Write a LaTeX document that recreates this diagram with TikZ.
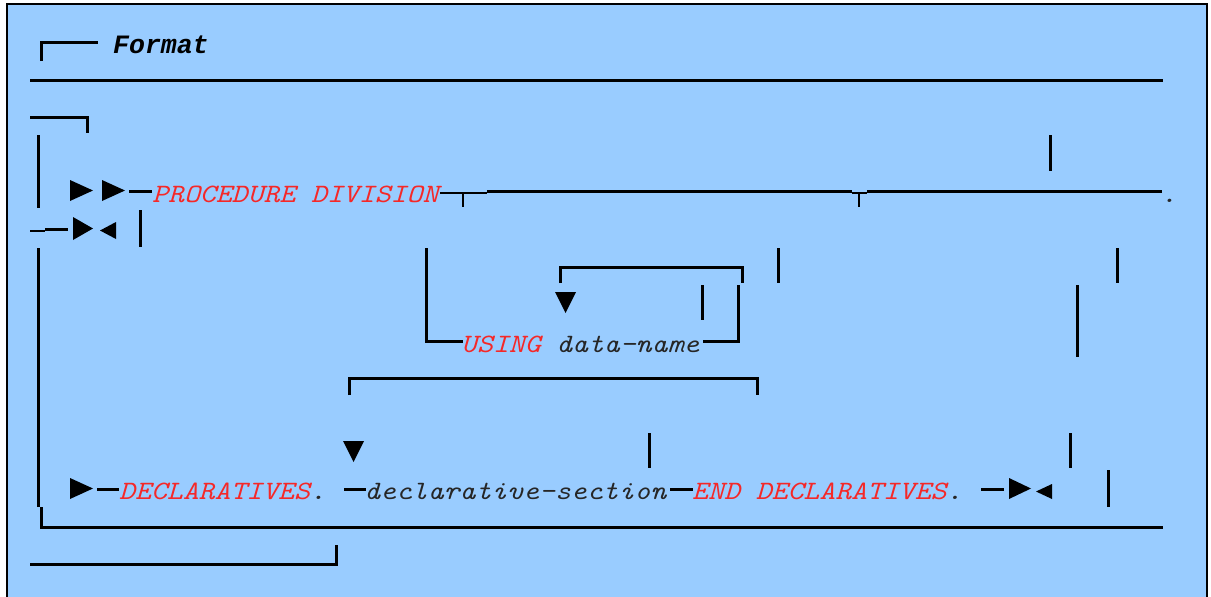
\documentclass[tikz,border=0pt]{standalone}
\usepackage{fontspec}
\setmonofont{Liberation Mono}
\newfontfamily\lmtype[FakeStretch=1.143]{Latin Modern Mono}
\usepackage{xcolor}
\usepackage{tikz}
\definecolor{bgBlue}{RGB}{153,204,255}
\definecolor{kwRed}{RGB}{245,40,40}
\newcommand\synfont{\fontsize{26.5}{30}\selectfont\lmtype\itshape}

\begin{document}
\begin{tikzpicture}[
    x=1pt, y=-1pt,
    ln/.style   ={line width=3pt},
    thin/.style ={line width=2pt},
    kw/.style   ={font=\synfont, text=kwRed, anchor=base west, inner sep=0pt},
    word/.style ={font=\synfont, text=black!85, anchor=base west, inner sep=0pt},
    tri/.style  ={fill=black}
]
\useasboundingbox (0,0) rectangle (1211,597);
\fill[bgBlue] (7,4) rectangle (1207,600);
\draw[line width=1.6pt] (7,600) -- (7,4) -- (1207,4) -- (1207,600);

\node[word, font=\fontsize{26.5}{30}\selectfont\ttfamily\bfseries\itshape, text=black] (fmt) at (113,53) {Format};
\node[kw] (proc) at (152,202) {PROCEDURE DIVISION};
\node[word] (dot) at (1161,202) {.};
\node[kw] (using) at (461,352) {USING};
\node[word] (dname) at (556,352) {data-name};
\node[kw] (decl) at (119,499) {DECLARATIVES\textcolor{black!85}{.}};
\node[word] (dsec) at (364,499) {declarative-section};
\node[kw] (enddecl) at (692,499) {END DECLARATIVES\textcolor{black!85}{.}};

\draw[ln] (41,61) -- (41,42) -- (98,42);
\draw[ln] (30,80) -- (1163,80);
\draw[ln] (30,117) -- (87,117) -- (87,133);
\draw[ln] (38,135) -- (38,208);
\draw[ln] (38,248) -- (38,507);
\draw[ln] (41,507) -- (41,527) -- (1163,527);
\draw[ln] (30,564) -- (336,564) -- (336,545);

\fill[tri] (70,180) -- (70,201) -- (93,190.5) -- cycle;
\fill[tri] (102,180) -- (102,201) -- (125,190.5) -- cycle;
\draw[ln] (129,191) -- (152,191);
\draw[thin] (440,193) -- (487,193);
\draw[ln] (487,191) -- (852,191);
\draw[thin] (852,193) -- (867,193);
\draw[ln] (867,191) -- (1162,191);
\draw[thin] (463,193) -- (463,207);
\draw[thin] (859,193) -- (859,207);
\draw[ln] (1050,135) -- (1050,171);

\draw[thin] (30,231) -- (45,231);
\draw[ln] (45,229) -- (68,229);
\fill[tri] (73,217) -- (73,240) -- (93,228.5) -- cycle;
\fill[tri] (116,222) -- (116,239) -- (100,230.5) -- cycle;
\draw[ln] (140,210) -- (140,247);

\draw[ln] (426,248) -- (426,341) -- (463,341);
\draw[ln] (703,341) -- (738,341) -- (738,285);
\draw[ln] (560,283) -- (560,267) -- (742,267) -- (742,283);
\fill[tri] (555,292) -- (576,292) -- (565.5,313) -- cycle;
\draw[ln] (702,285) -- (702,320);
\draw[ln] (778,248) -- (778,283);
\draw[ln] (1117,248) -- (1117,283);
\draw[ln] (1077,285) -- (1077,357);

\draw[ln] (349,395) -- (349,378) -- (757,378) -- (757,395);
\fill[tri] (343,441) -- (364,441) -- (353.5,462) -- cycle;
\draw[ln] (649,433) -- (649,468);
\draw[ln] (1070,433) -- (1070,468);

\fill[tri] (70,478) -- (70,499) -- (93,488.5) -- cycle;
\draw[ln] (97,489) -- (119,489);
\draw[ln] (344,489) -- (366,489);
\draw[ln] (670,489) -- (693,489);
\draw[ln] (981,489) -- (1004,489);
\fill[tri] (1009,478) -- (1009,499) -- (1031,488.5) -- cycle;
\fill[tri] (1052,484) -- (1052,499) -- (1036,491.5) -- cycle;
\draw[ln] (1108,470) -- (1108,507);
\end{tikzpicture}
\end{document}
